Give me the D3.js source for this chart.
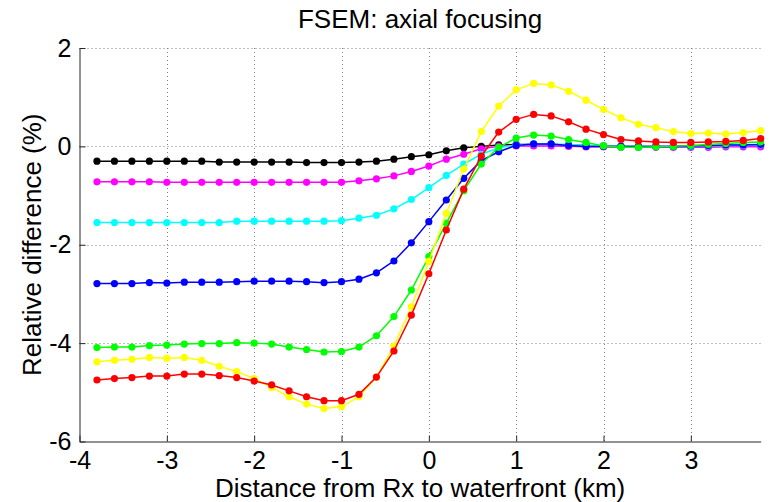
<!DOCTYPE html>
<html><head><meta charset="utf-8">
<script src="https://cdn.jsdelivr.net/npm/d3@7"></script>
<style>html,body{margin:0;padding:0;background:#fff}svg{display:block}text{font-family:"Liberation Sans",Arial,sans-serif}</style>
</head><body>
<script>
const xVals = [-3.8,-3.6,-3.4,-3.2,-3.0,-2.8,-2.6,-2.4,-2.2,-2.0,-1.8,-1.6,-1.4,-1.2,-1.0,-0.8,-0.6,-0.4,-0.2,0.0,0.2,0.4,0.6,0.8,1.0,1.2,1.4,1.6,1.8,2.0,2.2,2.4,2.6,2.8,3.0,3.2,3.4,3.6,3.8];
const black   = [-0.30,-0.30,-0.30,-0.30,-0.30,-0.30,-0.30,-0.32,-0.32,-0.32,-0.32,-0.32,-0.33,-0.33,-0.33,-0.32,-0.30,-0.26,-0.21,-0.17,-0.09,-0.03,0.00,0.03,0.04,0.04,0.04,0.03,0.02,0.01,0.00,0.00,0.00,0.00,0.00,0.01,0.02,0.02,0.03];
const magenta = [-0.72,-0.72,-0.72,-0.72,-0.73,-0.73,-0.73,-0.73,-0.73,-0.73,-0.73,-0.73,-0.73,-0.73,-0.73,-0.70,-0.66,-0.60,-0.51,-0.40,-0.26,-0.16,-0.05,0.00,0.01,0.01,0.01,0.00,-0.01,-0.01,-0.02,-0.02,-0.02,-0.02,-0.02,-0.02,-0.01,-0.01,-0.01];
const cyan    = [-1.55,-1.55,-1.55,-1.55,-1.55,-1.55,-1.55,-1.55,-1.52,-1.52,-1.52,-1.52,-1.52,-1.52,-1.51,-1.46,-1.40,-1.27,-1.08,-0.84,-0.59,-0.36,-0.16,-0.03,0.03,0.05,0.05,0.04,0.02,0.01,0.00,0.00,0.00,0.00,0.00,0.01,0.02,0.02,0.03];
const blue    = [-2.79,-2.79,-2.79,-2.77,-2.78,-2.76,-2.76,-2.76,-2.75,-2.74,-2.74,-2.74,-2.75,-2.77,-2.75,-2.70,-2.57,-2.33,-1.96,-1.53,-1.09,-0.65,-0.29,-0.11,0.02,0.05,0.05,0.02,0.00,0.00,0.00,0.00,0.00,0.00,0.01,0.02,0.03,0.03,0.04];
const green   = [-4.09,-4.08,-4.08,-4.05,-4.04,-4.02,-4.01,-4.01,-3.99,-4.00,-4.02,-4.08,-4.13,-4.18,-4.17,-4.08,-3.85,-3.46,-2.92,-2.24,-1.56,-0.90,-0.36,-0.02,0.17,0.23,0.21,0.14,0.08,0.01,-0.02,-0.02,-0.01,0.00,0.02,0.04,0.06,0.08,0.09];
const yellow  = [-4.38,-4.35,-4.33,-4.29,-4.31,-4.29,-4.35,-4.47,-4.58,-4.72,-4.90,-5.09,-5.24,-5.33,-5.29,-5.09,-4.69,-4.06,-3.26,-2.34,-1.36,-0.46,0.30,0.82,1.15,1.28,1.25,1.12,0.94,0.75,0.58,0.45,0.38,0.30,0.26,0.27,0.25,0.28,0.32];
const red     = [-4.75,-4.72,-4.70,-4.67,-4.67,-4.63,-4.63,-4.66,-4.70,-4.77,-4.85,-4.97,-5.09,-5.17,-5.17,-5.04,-4.69,-4.16,-3.43,-2.59,-1.70,-0.87,-0.20,0.29,0.55,0.65,0.62,0.50,0.35,0.24,0.14,0.11,0.09,0.08,0.08,0.09,0.10,0.12,0.16];
const xTicks = [-4,-3,-2,-1,0,1,2,3];
const yTicks = [-6,-4,-2,0,2];
const seriesList = [
  {name:"black", values:black, color:"#000000"},
  {name:"magenta", values:magenta, color:"#ff00ff"},
  {name:"cyan", values:cyan, color:"#00ffff"},
  {name:"blue", values:blue, color:"#0000ff"},
  {name:"green", values:green, color:"#00ff00"},
  {name:"yellow", values:yellow, color:"#ffff00"},
  {name:"red", values:red, color:"#ff0000"}
];
const titleText = "FSEM: axial focusing";
const xLabel = "Distance from Rx to waterfront (km)";
const yLabel = "Relative difference (%)";

const W = 771, H = 502;
const L = 79.5, R = 760.7, T = 48, B = 441.5;
const x = d3.scaleLinear().domain([-4, 3.8]).range([L, R]);
const y = d3.scaleLinear().domain([-6, 2]).range([B, T]);

const svg = d3.select("body").append("svg").attr("width", W).attr("height", H);

// grid
const grid = svg.append("g").attr("stroke", "#808080").attr("stroke-width", 1).attr("stroke-dasharray", "1,3");
grid.selectAll(".gx").data(xTicks.filter(t => t > -4)).enter().append("line")
  .attr("x1", d => Math.round(x(d)) + 0.5).attr("x2", d => Math.round(x(d)) + 0.5)
  .attr("y1", T).attr("y2", B);
grid.selectAll(".gy").data(yTicks.filter(t => t > -6)).enter().append("line")
  .attr("y1", d => Math.round(y(d)) + 0.5).attr("y2", d => Math.round(y(d)) + 0.5)
  .attr("x1", L).attr("x2", R);

// axes
const xAxis = d3.axisBottom(x).tickValues(xTicks).tickSizeInner(-6).tickSizeOuter(0).tickPadding(10).tickFormat(d3.format("d"));
const yAxis = d3.axisLeft(y).tickValues(yTicks).tickSizeInner(-6).tickSizeOuter(0).tickPadding(8).tickFormat(d3.format("d"));
const gx = svg.append("g").attr("transform", `translate(0,${B})`).call(xAxis);
const gy = svg.append("g").attr("transform", `translate(${L},0)`).call(yAxis);
[gx, gy].forEach(g => {
  g.selectAll("path,line").attr("stroke", "#262626").attr("stroke-width", 1);
  g.selectAll("text").attr("font-size", 25).attr("fill", "#000")
   .attr("font-family", '"Liberation Sans", Arial, sans-serif');
});
gx.selectAll("text").text(d => d < 0 ? "-" + Math.abs(d) : d);
gy.selectAll("text").text(d => d < 0 ? "-" + Math.abs(d) : d);

// series
const line = d3.line().x((d, i) => x(xVals[i])).y(d => y(d));
seriesList.forEach(s => {
  const g = svg.append("g");
  g.append("path").datum(s.values).attr("d", line).attr("fill", "none")
    .attr("stroke", s.color).attr("stroke-width", 1.5);
  g.selectAll("circle").data(s.values).enter().append("circle")
    .attr("cx", (d, i) => x(xVals[i])).attr("cy", d => y(d)).attr("r", 3.6)
    .attr("fill", s.color);
});

// labels
svg.append("text").attr("x", (L + R) / 2).attr("y", 28).attr("text-anchor", "middle")
  .attr("font-size", 26).text(titleText);
svg.append("text").attr("x", (L + R) / 2).attr("y", 497).attr("text-anchor", "middle")
  .attr("font-size", 26).text(xLabel);
svg.append("text").attr("transform", `translate(41,${(T + B) / 2}) rotate(-90)`).attr("text-anchor", "middle")
  .attr("font-size", 26).text(yLabel);
</script>
</body></html>
